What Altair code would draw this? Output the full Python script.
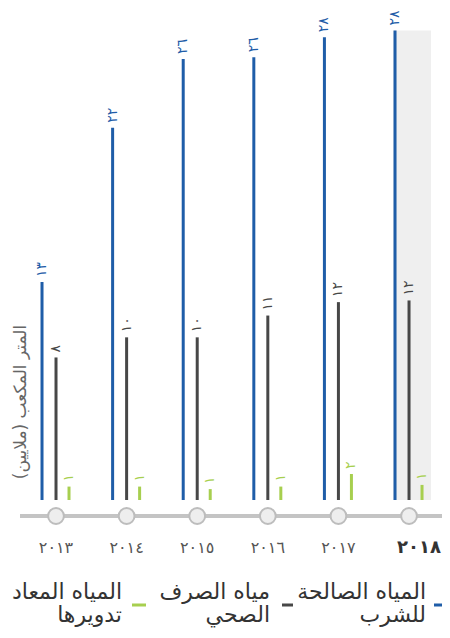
import altair as alt
import pandas as pd

# ---- data ----
years = [2013, 2014, 2015, 2016, 2017, 2018]
year_labels = ["٢٠١٣", "٢٠١٤", "٢٠١٥", "٢٠١٦", "٢٠١٧", "٢٠١٨"]

drinking = [13.0, 22.2, 26.3, 26.4, 27.6, 28.0]
drinking_labels = ["١٣", "٢٢", "٢٦", "٢٦", "٢٨", "٢٨"]

sewage = [8.5, 9.7, 9.7, 11.0, 11.8, 11.9]
sewage_labels = ["٨", "١٠", "١٠", "١١", "١٢", "١٢"]

recycled = [0.8, 0.8, 0.65, 0.8, 1.55, 0.9]
recycled_labels = ["١", "١", "١", "١", "٢", "١"]

series_names = ["المياه الصالحة\nللشرب", "مياه الصرف\nالصحي", "المياه المعاد\nتدويرها"]
y_title = "المتر المكعب (ملايين)"

# ---- styling ----
FONT = "DejaVu Sans"
W, H = 434, 492
BLUE, GREY, GREEN = "#1f5da8", "#474747", "#a7cf4f"

x_scale = alt.Scale(domain=[2012.32, 2018.467], nice=False, zero=False, padding=0)
y_scale = alt.Scale(domain=[0, 29.34], nice=False, padding=0)

X = alt.X("year:Q", scale=x_scale, axis=None)

layers = []

# highlight of the latest year
hl = pd.DataFrame({"year": [years[-1]], "top": [drinking[-1]]})
layers.append(
    alt.Chart(hl).mark_rect(color="#efefef", xOffset=-16, x2Offset=22).encode(
        x=X, x2=alt.X2("year"),
        y=alt.Y("top:Q", scale=y_scale, axis=None), y2=alt.datum(0)
    )
)

series = [
    (drinking, drinking_labels, BLUE, -14),
    (sewage, sewage_labels, GREY, 0),
    (recycled, recycled_labels, GREEN, 13),
]
for vals, labs, col, off in series:
    df = pd.DataFrame({"year": years, "value": vals, "label": labs})
    base = alt.Chart(df).encode(x=X, y=alt.Y("value:Q", scale=y_scale, axis=None))
    layers.append(base.mark_bar(size=3, color=col, xOffset=off))
    layers.append(
        base.mark_text(angle=270, align="left", baseline="middle", dx=5,
                       xOffset=off, font=FONT, fontSize=14, color=col)
        .encode(text="label:N")
    )

# x axis line with circles and year labels
yrs = pd.DataFrame({"year": years, "label": year_labels})
layers.append(
    alt.Chart(yrs).mark_rule(color="#c4c4c4", strokeWidth=3).encode(
        x=alt.value(12), x2=alt.value(W), y=alt.value(508)
    )
)
layers.append(
    alt.Chart(yrs).mark_point(shape="circle", filled=True, fill="#eeeeee",
                              stroke="#bdbdbd", strokeWidth=2, size=250,
                              opacity=1).encode(x=X, y=alt.value(508))
)
last = years[-1]
layers.append(
    alt.Chart(yrs).transform_filter(alt.datum.year != last)
    .mark_text(font=FONT, baseline="middle", fontSize=16, color="#555555")
    .encode(x=X, y=alt.value(540), text="label:N")
)
layers.append(
    alt.Chart(yrs).transform_filter(alt.datum.year == last)
    .mark_text(font=FONT, baseline="middle", fontSize=18, fontWeight="bold",
               color="#333333", dx=10)
    .encode(x=X, y=alt.value(540), text="label:N")
)

# y title
layers.append(
    alt.Chart(pd.DataFrame({"t": [y_title]})).mark_text(
        angle=270, font=FONT, fontSize=17, color="#666666", baseline="middle", align="center"
    ).encode(x=alt.value(13), y=alt.value(394), text="t:N")
)

# legend (right to left)
legend_pos = [(418, 426, 434), (262, 274, 285), (114, 124, 138)]
for name, col, (tx, d1, d2) in zip(series_names, [BLUE, GREY, GREEN], legend_pos):
    ldf = pd.DataFrame({"name": [name]})
    layers.append(
        alt.Chart(ldf).mark_rule(color=col, strokeWidth=3).encode(
            x=alt.value(d1), x2=alt.value(d2), y=alt.value(597)
        )
    )
    layers.append(
        alt.Chart(ldf).mark_text(font=FONT, fontSize=22, color="#333333", align="right",
                                 baseline="middle", lineBreak="\n", lineHeight=23).encode(
            x=alt.value(tx), y=alt.value(584), text="name:N"
        )
    )

chart = alt.layer(*layers).properties(
    width=W, height=H,
    autosize=alt.AutoSizeParams(type="none"),
    padding={"left": 0, "right": 0, "top": 0, "bottom": 130},
).configure_view(stroke=None)

chart.save("out.html", embed_options={"renderer": "svg", "actions": False})
